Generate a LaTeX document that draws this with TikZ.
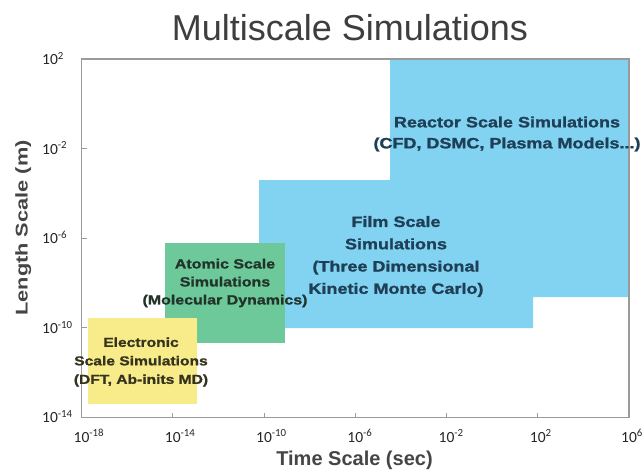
\documentclass[tikz,border=0pt]{standalone}
\usepackage{fontspec}
\setmainfont{Liberation Sans}
\newfontfamily\boxfont[FakeStretch=1.2,FakeBold=1.2]{Liberation Sans}
\newfontfamily\ylabfont[FakeStretch=1.28]{Liberation Sans}
\newfontfamily\tickfont{Carlito}
\definecolor{skyfill}{HTML}{82D2F2}
\definecolor{greenfill}{HTML}{6DC89A}
\definecolor{yellowfill}{HTML}{F8EC8A}
\definecolor{framegray}{HTML}{9A9A9A}
\definecolor{titlegray}{HTML}{3E3E3E}
\definecolor{labgray}{HTML}{454545}
\definecolor{bluetext}{HTML}{1E3F55}
\definecolor{greentext}{HTML}{22342A}
\definecolor{yellowtext}{HTML}{35331E}
\begin{document}
\begin{tikzpicture}[x=1pt,y=-1pt,
  frameline/.style={draw=framegray,line width=1.2pt},
  tickline/.style={draw=framegray,line width=1pt},
  ticklabel/.style={inner sep=0pt,text=black!85,font={\tickfont\fontsize{15.5}{17}\selectfont}},
  boxtext/.style={align=center,inner sep=0pt},
]
\useasboundingbox (0,0) rectangle (644,471);
\fill[white] (0,0) rectangle (644,471);
% filled regions
\fill[skyfill] (259,180) -- (390,180) -- (390,59) -- (629,59) -- (629,297)
  -- (533,297) -- (533,328) -- (259,328) -- cycle;
\fill[greenfill] (165,243) rectangle (285,343);
\fill[yellowfill] (88,318) rectangle (197,404);
% frame
\draw[frameline] (81.5,59) rectangle (629,417.5);
% ticks
\foreach \i in {1,...,5}
  \draw[tickline] ({81.5+\i*91.25},417.5) -- ++(0,-5);
\foreach \i in {1,2,3}
  \draw[tickline] (81.5,{59+\i*89.6}) -- ++(5,0);
% x tick labels
\foreach \e [count=\k from 0] in {-18,-14,-10,-6,-2,2,6}
  \node[ticklabel,anchor=base] (xt\k) at ({81.5+\k*91.25},442)
    {10\rlap{\textsuperscript{\e}}};
% y tick labels
\foreach \e [count=\k from 0] in {2,-2,-6,-10,-14}
  \node[ticklabel,anchor=base west] (yt\k) at (42,{59+\k*89.6+5.5})
    {10\textsuperscript{\e}};
% titles
\node[anchor=base,inner sep=0pt,text=titlegray,font={\fontsize{36}{40}\selectfont}]
  (title) at (350,40) {Multiscale Simulations};
\node[anchor=base,inner sep=0pt,text=labgray,font={\bfseries\fontsize{20}{22}\selectfont}]
  (xlabel) at (354.5,465) {Time Scale (sec)};
\node[anchor=base,inner sep=0pt,rotate=90,text=labgray,font={\ylabfont\bfseries\fontsize{17}{20}\selectfont}]
  (ylabel) at (27.5,228) {Length Scale (m)};
% box texts
\node[boxtext,text=yellowtext,font={\boxfont\bfseries\fontsize{13}{18.5}\selectfont}]
  (elec) at (141,362) {Electronic\\Scale Simulations\\(DFT, Ab-inits MD)};
\node[boxtext,text=greentext,font={\boxfont\bfseries\fontsize{13.3}{18}\selectfont}]
  (atom) at (225,283) {Atomic Scale\\Simulations\\(Molecular Dynamics)};
\node[boxtext,text=bluetext,font={\boxfont\bfseries\fontsize{15}{22.3}\selectfont}]
  (film) at (396,256.5) {Film Scale\\Simulations\\(Three Dimensional\\Kinetic Monte Carlo)};
\node[boxtext,text=bluetext,font={\boxfont\bfseries\fontsize{15}{21}\selectfont}]
  (reactor) at (507,134) {Reactor Scale Simulations\\(CFD, DSMC, Plasma Models...)};
\end{tikzpicture}
\end{document}
